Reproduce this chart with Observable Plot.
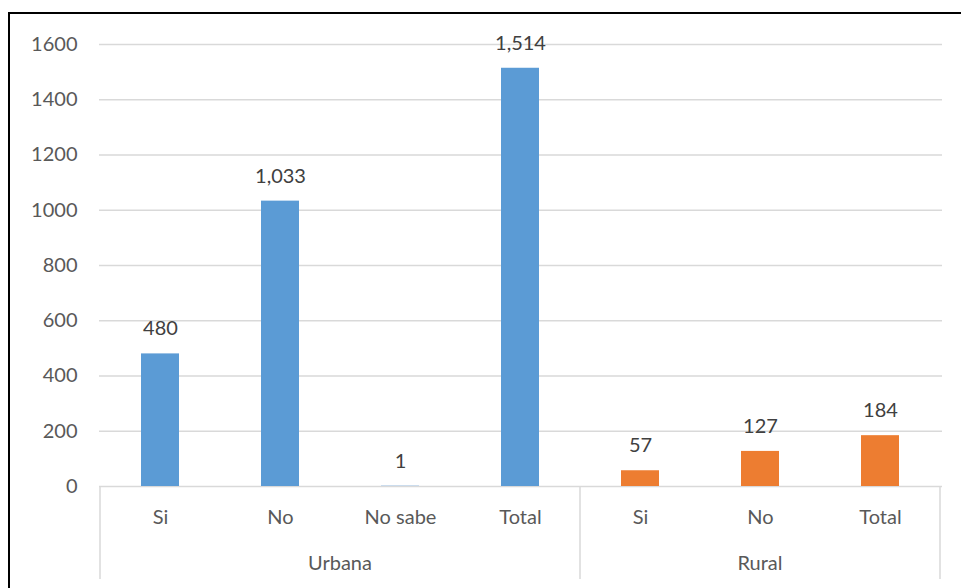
<!DOCTYPE html>
<html>
<head>
<meta charset="utf-8">
<script src="https://cdn.jsdelivr.net/npm/d3@7"></script>
<script src="https://cdn.jsdelivr.net/npm/@observablehq/plot@0.6"></script>
<style>
  html, body { margin: 0; padding: 0; background: #fff; }
  #wrap { position: relative; width: 961px; height: 588px; overflow: hidden; }
  #border { position: absolute; left: 8px; top: 12px; width: 1000px; height: 700px;
            border-top: 2px solid #000; border-left: 2px solid #000;
            box-shadow: -1px -1px 0 #bbb inset; pointer-events: none; }
  #chart svg { display: block; }
</style>
</head>
<body>
<div id="wrap">
  <div id="chart"></div>
  <div id="border"></div>
</div>
<script>
const groups = ["Urbana", "Urbana", "Urbana", "Urbana", "Rural", "Rural", "Rural"];
const categories = ["Si", "No", "No sabe", "Total", "Si", "No", "Total"];
const values = [480, 1033, 1, 1514, 57, 127, 184];
const groupNames = ["Urbana", "Rural"];
const groupColors = { Urbana: "#5B9BD5", Rural: "#ED7D31" };
const yTicks = [0, 200, 400, 600, 800, 1000, 1200, 1400, 1600];

const data = categories.map((c, i) => ({
  key: groups[i] + "|" + c,
  group: groups[i],
  category: c,
  value: values[i]
}));
const keys = data.map(d => d.key);
const fmt = d3.format(",");
const FONT = "Lato, 'Open Sans', sans-serif";

const plot = Plot.plot({
  width: 961,
  height: 588,
  marginLeft: 99,
  marginRight: 19,
  marginTop: 44,
  marginBottom: 102,
  style: { fontFamily: FONT, background: "transparent" },
  x: { type: "band", domain: keys, paddingInner: 0.68, paddingOuter: 0.34, axis: null },
  y: { domain: [0, 1600] },
  marks: [
    Plot.gridY(yTicks, { stroke: "#d9d9d9", strokeOpacity: 1, strokeWidth: 1.5 }),
    Plot.axisY(yTicks, { tickSize: 0, tickPadding: 22, fontSize: 20, color: "#595959", label: null, tickFormat: d => String(d) }),
    Plot.barY(data, { x: "key", y: "value", fill: d => groupColors[d.group] }),
    Plot.text(data, { x: "key", y: "value", text: d => fmt(d.value), dy: -25, fontSize: 20, fill: "#404040" }),
    Plot.text(data, { x: "key", frameAnchor: "bottom", dy: 37, text: "category", fontSize: 20, fill: "#595959" })
  ]
});

document.getElementById("chart").appendChild(plot);

// Group separators and group labels in the bottom area, placed from the x scale
const xs = plot.scale("x");
const bw = xs.bandwidth, step = xs.step;
const half = (step - bw) / 2;
const y0 = plot.scale("y").apply(0);
const svg = d3.select(plot);
const gSep = svg.append("g");
const edges = new Set();
groupNames.forEach(g => {
  const ks = data.filter(d => d.group === g).map(d => d.key);
  const left = xs.apply(ks[0]) - half;
  const right = xs.apply(ks[ks.length - 1]) + bw + half;
  edges.add(Math.round(left * 10) / 10);
  edges.add(Math.round(right * 10) / 10);
  gSep.append("text")
    .attr("x", (left + right) / 2)
    .attr("y", y0 + 79)
    .attr("text-anchor", "middle")
    .attr("dominant-baseline", "middle")
    .attr("font-size", 20)
    .attr("font-family", FONT)
    .attr("fill", "#595959")
    .text(g);
});
[...edges].forEach(ex => {
  gSep.append("line")
    .attr("x1", ex).attr("x2", ex)
    .attr("y1", y0).attr("y2", y0 + 93)
    .attr("stroke", "#d9d9d9").attr("stroke-width", 1.5);
});
</script>
</body>
</html>
